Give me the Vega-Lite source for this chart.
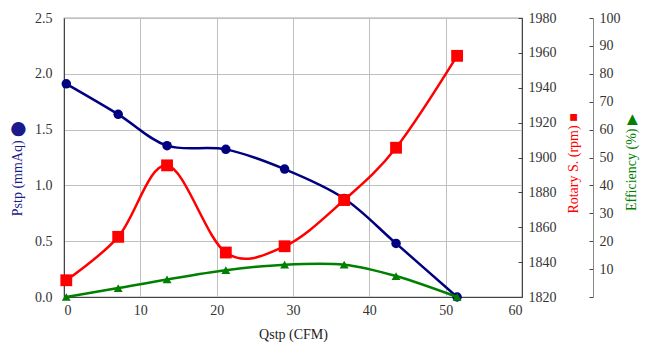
{
  "$schema": "https://vega.github.io/schema/vega-lite/v6.json",
  "width": 458,
  "height": 279,
  "autosize": "none",
  "padding": {"left": 64, "top": 18, "right": 125, "bottom": 59},
  "background": "white",
  "config": {
    "view": {"stroke": "#555555", "strokeWidth": 1.2},
    "font": "'Liberation Serif', 'Times New Roman', serif",
    "axis": {
      "labelFont": "'Liberation Serif', 'Times New Roman', serif",
      "labelFontSize": 14,
      "labelColor": "#333333",
      "titleFont": "'Liberation Serif', 'Times New Roman', serif",
      "titleFontSize": 14,
      "titleFontWeight": "normal",
      "domainColor": "#444444",
      "tickColor": "#444444",
      "gridColor": "#c0c0c0",
      "gridWidth": 1
    }
  },
  "data": {
    "values": [
      {"q": 0.3, "pstp": 1.91, "rpm": 1829.6, "eff": 0.0},
      {"q": 7.1, "pstp": 1.637, "rpm": 1854.5, "eff": 3.2},
      {"q": 13.5, "pstp": 1.356, "rpm": 1895.5, "eff": 6.3},
      {"q": 21.2, "pstp": 1.323, "rpm": 1845.5, "eff": 9.6},
      {"q": 28.9, "pstp": 1.146, "rpm": 1849.1, "eff": 11.6},
      {"q": 36.7, "pstp": 0.883, "rpm": 1875.6, "eff": 11.6},
      {"q": 43.5, "pstp": 0.48, "rpm": 1905.6, "eff": 7.5},
      {"q": 51.5, "pstp": 0.0, "rpm": 1958.3, "eff": 0.0}
    ]
  },
  "encoding": {
    "x": {
      "field": "q",
      "type": "quantitative",
      "scale": {"domain": [0, 60], "nice": false},
      "axis": {
        "title": "Qstp (CFM)",
        "titleColor": "#222222",
        "values": [0, 10, 20, 30, 40, 50, 60],
        "ticks": false,
        "labelPadding": 6,
        "titlePadding": 10,
        "grid": true
      }
    }
  },
  "layer": [
    {
      "mark": {"type": "line", "interpolate": "cardinal", "color": "#000080", "strokeWidth": 2.5, "clip": false,
        "point": {"filled": true, "shape": "circle", "size": 90, "color": "#000080"}},
      "encoding": {
        "y": {
          "field": "pstp",
          "type": "quantitative",
          "scale": {"domain": [0, 2.5], "nice": false},
          "axis": {
            "title": "Pstp (mmAq) ⬤",
            "titleColor": "#1a1a8c",
            "values": [0, 0.5, 1, 1.5, 2, 2.5],
            "format": ".1f",
            "ticks": false,
            "labelPadding": 12,
            "titlePadding": 10,
            "grid": true,
            "titleY": 150
          }
        }
      }
    },
    {
      "mark": {"type": "line", "interpolate": "cardinal", "color": "#ff0000", "strokeWidth": 2.5, "clip": false,
        "point": {"filled": true, "shape": "square", "size": 140, "color": "#ff0000"}},
      "encoding": {
        "y": {
          "field": "rpm",
          "type": "quantitative",
          "scale": {"domain": [1820, 1980], "nice": false},
          "axis": {
            "orient": "right",
            "title": "Rotary S. (rpm) ■",
            "titleColor": "#ff0000",
            "titleAngle": 270,
            "values": [1820, 1840, 1860, 1880, 1900, 1920, 1940, 1960, 1980],
            "format": "d",
            "tickSize": -4,
            "labelPadding": 10,
            "titlePadding": 24,
            "grid": false,
            "titleY": 145
          }
        }
      }
    },
    {
      "mark": {"type": "line", "interpolate": "cardinal", "color": "#008000", "strokeWidth": 2.5, "clip": false,
        "point": {"filled": true, "shape": "triangle-up", "size": 80, "color": "#008000"}},
      "encoding": {
        "y": {
          "field": "eff",
          "type": "quantitative",
          "scale": {"domain": [0, 100], "nice": false},
          "axis": {
            "orient": "right",
            "offset": 71,
            "title": "Efficiency (%) ▶",
            "titleColor": "#008000",
            "titleAngle": 270,
            "values": [0, 10, 20, 30, 40, 50, 60, 70, 80, 90, 100],
            "labelExpr": "datum.value == 0 ? '' : datum.label",
            "domainColor": "#888888",
            "tickSize": -4,
            "labelPadding": 10,
            "titlePadding": 18,
            "grid": false,
            "titleY": 144
          }
        }
      }
    }
  ],
  "resolve": {"scale": {"y": "independent"}}
}
